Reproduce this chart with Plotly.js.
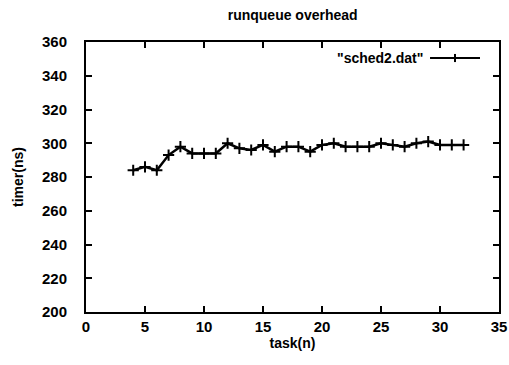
<!DOCTYPE html>
<html>
<head>
<meta charset="utf-8">
<script src="https://cdn.plot.ly/plotly-3.0.1.min.js"></script>
<style>html,body{margin:0;padding:0;background:#fff;}#chart{width:509px;height:365px;}</style>
</head>
<body>
<div id="chart"></div>
<script>
const tasks = [4,5,6,7,8,9,10,11,12,13,14,15,16,17,18,19,20,21,22,23,24,25,26,27,28,29,30,31,32];
const timerNs = [284,286,284,293,298,294,294,294,300,297,296,299,295,298,298,295,299,300,298,298,298,300,299,298,300,301,299,299,299];
const seriesName = '"sched2.dat"';
const xTicks = [0,5,10,15,20,25,30,35];
const yTicks = [200,220,240,260,280,300,320,340,360];

const fontFam = '"Liberation Sans", Arial, Helvetica, sans-serif';
const trace = {
  x: tasks, y: timerNs, type: 'scatter', mode: 'lines+markers', name: seriesName,
  line: {color: '#000', width: 2.5},
  marker: {symbol: 'cross-thin-open', size: 8, color: '#000', line: {color: '#000', width: 2}},
  showlegend: false, cliponaxis: false
};
const axisCommon = {
  showgrid: false, zeroline: false, showline: true, linecolor: '#000', linewidth: 2,
  mirror: 'ticks', ticks: 'inside', ticklen: 6, tickwidth: 2, tickcolor: '#000',
  tickfont: {family: fontFam, size: 15, color: '#000', weight: 'bold'}
};
const layout = {
  width: 509, height: 365,
  margin: {l: 86, r: 10, t: 42, b: 53},
  paper_bgcolor: '#fff', plot_bgcolor: '#fff',
  title: {text: 'runqueue overhead', font: {family: fontFam, size: 14, color: '#000', weight: 'bold'}, x: 0.575, xanchor: 'center', y: 0.96, yanchor: 'middle'},
  xaxis: Object.assign({}, axisCommon, {
    range: [0, 35], tickvals: xTicks, ticktext: xTicks.map(String), ticklabelstandoff: 0,
    title: {text: 'task(n)', font: {family: fontFam, size: 14, color: '#000', weight: 'bold'}, standoff: 4}
  }),
  yaxis: Object.assign({}, axisCommon, {
    range: [200, 360], tickvals: yTicks, ticktext: yTicks.map(String), ticklabelstandoff: 14,
    title: {text: 'timer(ns)', font: {family: fontFam, size: 14, color: '#000', weight: 'bold'}, standoff: 15}
  }),
  annotations: [{
    xref: 'paper', yref: 'paper', x: 0.8208, y: 0.9407, xanchor: 'right', yanchor: 'middle',
    text: seriesName, showarrow: false, font: {family: fontFam, size: 14, color: '#000', weight: 'bold'}
  }],
  shapes: [
    {type: 'line', xref: 'paper', yref: 'paper', x0: 0.833, x1: 0.954, y0: 0.9407, y1: 0.9407, line: {color: '#000', width: 2}},
    {type: 'line', xref: 'paper', yref: 'paper', x0: 0.8935, x1: 0.8935, y0: 0.9257, y1: 0.9557, line: {color: '#000', width: 2}}
  ]
};
Plotly.newPlot('chart', [trace], layout, {displayModeBar: false, staticPlot: true});
</script>
</body>
</html>
